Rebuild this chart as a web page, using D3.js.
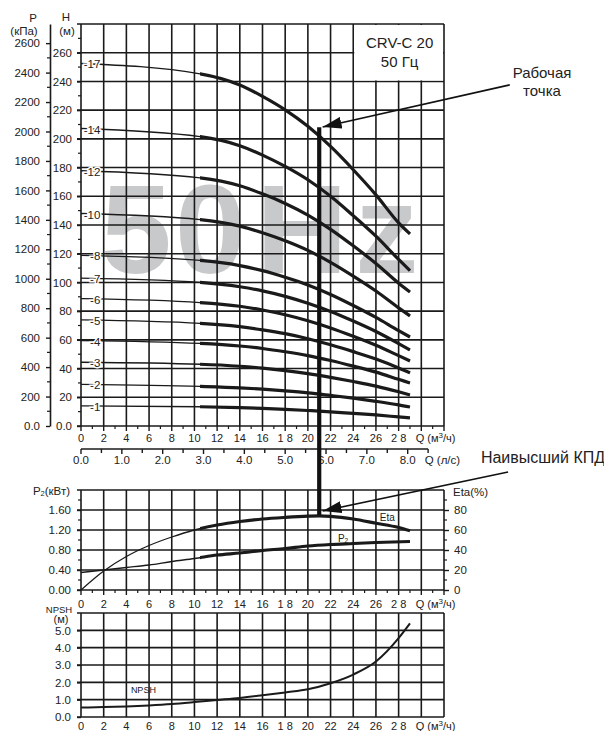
<!DOCTYPE html>
<html><head><meta charset="utf-8">
<script src="https://cdn.jsdelivr.net/npm/d3@7/dist/d3.min.js"></script>
<style>
body{margin:0;background:#fff}
svg{display:block}
text{font-family:"Liberation Sans",Arial,sans-serif;fill:#222}
</style>
</head><body>
<svg id="chart" width="604" height="731"></svg>
<script>
// ---------- DATA ----------
const qPoints = [0, 10.5, 14, 16, 18, 20, 22, 24, 26, 28, 29];      // m3/h
const head1  = [14.0, 13.4, 12.8, 12.3, 11.6, 10.8, 9.9, 8.8, 7.7, 6.3, 5.6];
const head2  = [29.0, 27.6, 26.6, 25.7, 24.5, 23.1, 21.3, 19.4, 17.2, 14.7, 13.2];
const head3  = [44.4, 43.0, 41.6, 40.3, 38.6, 36.5, 33.9, 31.0, 27.8, 23.8, 21.6];
const head4  = [59.5, 57.5, 55.7, 54.0, 51.7, 49.0, 45.6, 41.7, 37.5, 32.5, 30.0];
const head5  = [73.9, 71.5, 69.2, 67.0, 64.3, 60.8, 56.6, 51.8, 46.6, 40.4, 37.0];
const head6  = [88.7, 86.0, 83.4, 80.8, 77.5, 73.3, 68.3, 62.5, 56.3, 49.0, 45.3];
const head7  = [103.0, 100.0, 97.0, 94.1, 90.3, 85.5, 79.8, 73.1, 65.8, 57.4, 53.0];
const head8  = [118.8, 115.3, 111.7, 108.2, 103.6, 98.2, 91.6, 83.9, 75.6, 66.4, 62.0];
const head10 = [148.0, 143.8, 139.2, 134.6, 129.0, 122.3, 114.0, 104.4, 94.0, 82.3, 76.7];
const head12 = [177.8, 172.8, 167.3, 161.7, 155.0, 146.9, 137.0, 125.5, 113.2, 99.5, 93.4];
const head14 = [207.2, 201.5, 195.2, 188.7, 180.8, 171.5, 160.0, 146.5, 132.2, 116.0, 108.2];
const head17 = [252.5, 245.3, 237.5, 229.6, 220.2, 208.7, 194.7, 178.5, 161.0, 141.5, 133.8];
const stageLabels = ["-1","-2","-3","-4","-5","-6","-7","-8","-10","-12","-14","-17"];
const stageHeads  = [head1, head2, head3, head4, head5, head6, head7, head8, head10, head12, head14, head17];
const opStartQ = 10.5;

const p2Q    = [0, 2, 4, 6, 8, 10, 12, 14, 16, 18, 20, 22, 24, 26, 29];
const p2Vals = [0.35, 0.40, 0.45, 0.50, 0.57, 0.63, 0.70, 0.74, 0.79, 0.83, 0.88, 0.91, 0.93, 0.95, 0.97];
const etaQ    = [0, 2, 4, 6, 8, 10, 12, 14, 16, 18, 20, 21, 22, 24, 26, 28, 29];
const etaVals = [0, 19, 33.5, 44.5, 53, 60, 65, 68.5, 71, 72.6, 73.8, 74.1, 73.6, 71, 66.8, 62.5, 59.3];
const npshQ    = [0, 2, 4, 6, 8, 10, 12, 14, 16, 18, 20, 22, 24, 26, 28, 29];
const npshVals = [0.55, 0.57, 0.61, 0.67, 0.75, 0.86, 0.98, 1.1, 1.25, 1.42, 1.6, 1.95, 2.45, 3.2, 4.55, 5.4];

const workQ = 21, workH = 208, workEta = 75;

const qTicks = [0,2,4,6,8,10,12,14,16,18,20,22,24,26,28];
const qTickLabels = ["0","2","4","6","8","10","12","14","16","1 8","20","22","24","26","2 8"];
const hTicks = [0,20,40,60,80,100,120,140,160,180,200,220,240,260];
const hTickLabels = ["0.0","20","40","60","80","100","120","140","160","180","200","220","240","260"];
const pTicks = [0,200,400,600,800,1000,1200,1400,1600,1800,2000,2200,2400,2600];
const pTickLabels = ["0.0","200","400","600","800","1000","1200","1400","1600","1800","2000","2200","2400","2600"];
const lsTicks = [0,1,2,3,4,5,6,7,8];
const lsTickLabels = ["0.0","1.0","2.0","3.0","4.0","5.0","6.0","7.0","8.0"];
const p2Ticks = [0,0.4,0.8,1.2,1.6];
const p2TickLabels = ["0.00","0.40","0.80","1.20","1.60"];
const etaTicks = [0,20,40,60,80];
const npshTicks = [0,1,2,3,4,5];
const npshTickLabels = ["0.0","1.0","2.0","3.0","4.0","5.0"];

// ---------- SCALES ----------
const svg = d3.select("#chart");
const x    = d3.scaleLinear().domain([0,32]).range([81,444]);
const xLs  = d3.scaleLinear().domain([0,32/3.6]).range([81,444]);
const yH   = d3.scaleLinear().domain([0,280]).range([426,24]);
const yP   = d3.scaleLinear().domain([0,2730]).range([426,24]);
const yP2  = d3.scaleLinear().domain([0,2]).range([590,490]);
const yEta = d3.scaleLinear().domain([0,100]).range([590,490]);
const yN   = d3.scaleLinear().domain([0,6]).range([717,613]);

const gridQ = d3.range(0,33,2);
const ink = "#1a1a1a";

// ---------- WATERMARK ----------
const wm = svg.append("text").attr("y", 273).attr("font-size",127).attr("font-weight","bold")
  .style("fill","#c8c9ca");
[["5",101],["0",175],["H",256],["z",355]].forEach(([c,px]) => wm.append("tspan").attr("x",px).text(c));

// ---------- helper for grid ----------
function grid(g, yScale, yVals, yTop, yBottom, gridStroke){
  g.selectAll(".v").data(gridQ).join("line")
    .attr("x1", d=>x(d)).attr("x2", d=>x(d)).attr("y1", yTop).attr("y2", yBottom)
    .attr("stroke", ink).attr("stroke-width", gridStroke);
  g.selectAll(".h").data(yVals).join("line").attr("class","h")
    .attr("x1", x(0)-4).attr("x2", x(32)).attr("y1", d=>yScale(d)).attr("y2", d=>yScale(d))
    .attr("stroke", ink).attr("stroke-width", gridStroke);
}

function xAxisLabels(yPos, withUnit){
  const g = svg.append("g");
  g.selectAll("text").data(qTicks).join("text")
    .attr("x", d=>x(d)).attr("y", yPos).attr("text-anchor","middle").attr("font-size",11)
    .attr("dominant-baseline","central").text((d,i)=>qTickLabels[i]);
  if (withUnit) g.append("text").attr("x", x(29.5)).attr("y", yPos).attr("font-size",11)
    .attr("dominant-baseline","central").html("Q (м<tspan font-size='8' dy='-3'>3</tspan><tspan dy='3'>/ч)</tspan>");
}
function minorQTicks(yPos, len){
  svg.append("g").selectAll("line").data(d3.range(1,32,2)).join("line")
    .attr("x1", d=>x(d)).attr("x2", d=>x(d)).attr("y1", yPos).attr("y2", yPos+len)
    .attr("stroke", ink).attr("stroke-width",1.2);
  svg.append("g").selectAll("line").data(gridQ).join("line")
    .attr("x1", d=>x(d)).attr("x2", d=>x(d)).attr("y1", yPos).attr("y2", yPos+len+2)
    .attr("stroke", ink).attr("stroke-width",1.4);
}

// ---------- MAIN PANEL ----------
const main = svg.append("g");
grid(main, yH, d3.range(0,281,20), yH(280), yH(0), 1.6);
// legend box covering the grid
main.append("rect").attr("x", x(24)+1).attr("y", yH(280)+1)
  .attr("width", x(32)-x(24)-2).attr("height", yH(240)-yH(280)-2).attr("fill","#fff");
main.append("text").attr("x", (x(24)+x(32))/2+1).attr("y", 42).attr("text-anchor","middle")
  .attr("font-size",15).attr("dominant-baseline","central").text("CRV-C 20");
main.append("text").attr("x", (x(24)+x(32))/2+1).attr("y", 61).attr("text-anchor","middle")
  .attr("font-size",15).attr("dominant-baseline","central").text("50 Гц");

minorQTicks(yH(0), 3);
xAxisLabels(438, true);

// H axis
const hAx = svg.append("g").attr("transform",`translate(${x(0)},0)`)
  .call(d3.axisLeft(yH).tickValues(hTicks).tickFormat((d,i)=>hTickLabels[i]).tickSize(4).tickPadding(5));
hAx.select(".domain").remove();
hAx.selectAll("text").attr("font-size",11.5).style("font-family","Liberation Sans, Arial").attr("fill","#222");
hAx.selectAll("line").attr("stroke",ink).attr("stroke-width",1.4);
svg.append("g").selectAll("line").data(d3.range(10,280,20)).join("line")
  .attr("x1", x(0)-3).attr("x2", x(0)).attr("y1", d=>yH(d)).attr("y2", d=>yH(d)).attr("stroke",ink).attr("stroke-width",1.2);
svg.append("text").attr("x",66).attr("y",17).attr("text-anchor","middle").attr("font-size",11.5).attr("dominant-baseline","central").text("H");
svg.append("text").attr("x",67).attr("y",31).attr("text-anchor","middle").attr("font-size",11.5).attr("dominant-baseline","central").text("(м)");

// P axis
const pAx = svg.append("g").attr("transform","translate(50,0)")
  .call(d3.axisLeft(yP).tickValues(pTicks).tickFormat((d,i)=>pTickLabels[i]).tickSize(4).tickPadding(6).tickSizeOuter(0));
pAx.select(".domain").attr("stroke",ink).attr("stroke-width",1.6);
pAx.selectAll("text").attr("font-size",11.5).style("font-family","Liberation Sans, Arial").attr("fill","#222");
pAx.selectAll(".tick line").attr("stroke",ink).attr("stroke-width",1.4);
svg.append("g").selectAll("line").data(d3.range(100,2700,200)).join("line")
  .attr("x1", 47).attr("x2", 50).attr("y1", d=>yP(d)).attr("y2", d=>yP(d)).attr("stroke",ink).attr("stroke-width",1.2);
svg.append("text").attr("x",33).attr("y",18).attr("text-anchor","middle").attr("font-size",11.5).attr("dominant-baseline","central").text("P");
svg.append("text").attr("x",24).attr("y",31).attr("text-anchor","middle").attr("font-size",11.5).attr("dominant-baseline","central").text("(кПа)");

// l/s axis
const lsY = 449;
svg.append("line").attr("x1", xLs(0)).attr("x2", xLs(8.5)).attr("y1", lsY).attr("y2", lsY).attr("stroke",ink).attr("stroke-width",1.4);
svg.append("g").selectAll("line").data(d3.range(0,8.6,0.5)).join("line")
  .attr("x1", d=>xLs(d)).attr("x2", d=>xLs(d)).attr("y1", lsY).attr("y2", d=> lsY + (d%1===0?5:4))
  .attr("stroke",ink).attr("stroke-width",1.4);
svg.append("g").selectAll("text").data(lsTicks).join("text")
  .attr("x", d=>xLs(d)).attr("y", 460).attr("text-anchor","middle").attr("font-size",11.5)
  .attr("dominant-baseline","central").text((d,i)=>lsTickLabels[i]);
svg.append("text").attr("x", xLs(8)+17).attr("y",460).attr("font-size",11.5).attr("dominant-baseline","central").text("Q (л/с)");

// pump curves
const clip = svg.append("defs");
clip.append("clipPath").attr("id","opMain").append("rect")
  .attr("x", x(opStartQ)).attr("y", 0).attr("width", 300).attr("height", 731);
const lineH = d3.line().x(d=>x(d[0])).y(d=>yH(d[1])).curve(d3.curveMonotoneX);
const curves = svg.append("g");
stageHeads.forEach((hs, i) => {
  const pts = qPoints.map((q,j)=>[q, hs[j]]);
  curves.append("path").attr("d", lineH(pts)).attr("fill","none").attr("stroke",ink).attr("stroke-width",1.3);
  curves.append("path").attr("d", lineH(pts)).attr("fill","none").attr("stroke",ink).attr("stroke-width",3.2)
    .attr("clip-path","url(#opMain)");
});
curves.selectAll("text").data(stageHeads).join("text")
  .attr("x", x(1.7)).attr("y", d=>yH(d[0])+1).attr("text-anchor","end").attr("font-size",11.5)
  .attr("dominant-baseline","central")
  .attr("stroke","#fff").attr("stroke-width",3).attr("paint-order","stroke")
  .text((d,i)=>stageLabels[i]);

// ---------- PANEL 2 (P2 / Eta) ----------
const p2g = svg.append("g");
grid(p2g, yP2, [0,0.4,0.8,1.2,1.6,2.0], yP2(2), yP2(0), 1.6);
minorQTicks(yP2(0), 3);
xAxisLabels(604, true);
const p2Ax = svg.append("g").attr("transform",`translate(${x(0)},0)`)
  .call(d3.axisLeft(yP2).tickValues(p2Ticks).tickFormat((d,i)=>p2TickLabels[i]).tickSize(4).tickPadding(6));
p2Ax.select(".domain").remove();
p2Ax.selectAll("text").attr("font-size",11.5).style("font-family","Liberation Sans, Arial").attr("fill","#222");
p2Ax.selectAll("line").attr("stroke",ink).attr("stroke-width",1.4);
svg.append("g").selectAll("line").data([0.2,0.6,1.0,1.4,1.8]).join("line")
  .attr("x1", x(0)-3).attr("x2", x(0)).attr("y1", d=>yP2(d)).attr("y2", d=>yP2(d)).attr("stroke",ink).attr("stroke-width",1.2);
const p2Lab = svg.append("text").attr("x",70).attr("y",491).attr("text-anchor","end").attr("font-size",11.5).attr("dominant-baseline","central");
p2Lab.append("tspan").text("P");
p2Lab.append("tspan").attr("font-size",7.5).attr("dy",2).text("2");
p2Lab.append("tspan").attr("dy",-2).text("(кВт)");

const etaAx = svg.append("g").attr("transform",`translate(${x(32)},0)`)
  .call(d3.axisRight(yEta).tickValues(etaTicks).tickSize(5).tickPadding(5));
etaAx.select(".domain").remove();
etaAx.selectAll("text").attr("font-size",11.5).style("font-family","Liberation Sans, Arial").attr("fill","#222");
etaAx.selectAll("line").attr("stroke",ink).attr("stroke-width",1.4);
svg.append("g").selectAll("line").data([10,30,50,70,90]).join("line")
  .attr("x1", x(32)).attr("x2", x(32)+3).attr("y1", d=>yEta(d)).attr("y2", d=>yEta(d)).attr("stroke",ink).attr("stroke-width",1.2);
svg.append("text").attr("x", x(32)+9).attr("y",492).attr("font-size",11.5).attr("dominant-baseline","central").text("Eta(%)");

const lineP2 = d3.line().x(d=>x(d[0])).y(d=>yP2(d[1])).curve(d3.curveMonotoneX);
const lineEta = d3.line().x(d=>x(d[0])).y(d=>yEta(d[1])).curve(d3.curveMonotoneX);
const p2Pts = p2Q.map((q,i)=>[q,p2Vals[i]]);
const etaPts = etaQ.map((q,i)=>[q,etaVals[i]]);
[[lineP2,p2Pts],[lineEta,etaPts]].forEach(([ln,pts])=>{
  svg.append("path").attr("d", ln(pts)).attr("fill","none").attr("stroke",ink).attr("stroke-width",1.3);
  svg.append("path").attr("d", ln(pts)).attr("fill","none").attr("stroke",ink).attr("stroke-width",3.2).attr("clip-path","url(#opMain)");
});
svg.append("text").attr("x", x(27.0)).attr("y", yEta(72.5)).attr("text-anchor","middle").attr("font-size",10)
  .attr("dominant-baseline","central").text("Eta");
const p2Txt = svg.append("text").attr("x", x(23.1)).attr("y", yP2(1.04)).attr("text-anchor","middle").attr("font-size",10)
  .attr("dominant-baseline","central");
p2Txt.append("tspan").text("P");
p2Txt.append("tspan").attr("font-size",6.5).attr("dy",2).text("2");

// ---------- PANEL 3 (NPSH) ----------
const ng = svg.append("g");
grid(ng, yN, [0,1,2,3,4,5,6], yN(6), yN(0), 1.6);
xAxisLabels(726, true);
const nAx = svg.append("g").attr("transform",`translate(${x(0)},0)`)
  .call(d3.axisLeft(yN).tickValues(npshTicks).tickFormat((d,i)=>npshTickLabels[i]).tickSize(4).tickPadding(6));
nAx.select(".domain").remove();
nAx.selectAll("text").attr("font-size",11.5).style("font-family","Liberation Sans, Arial").attr("fill","#222");
nAx.selectAll("line").attr("stroke",ink).attr("stroke-width",1.4);
svg.append("text").attr("x",59).attr("y",609).attr("text-anchor","middle").attr("font-size",9.5).attr("dominant-baseline","central").text("NPSH");
svg.append("text").attr("x",61).attr("y",619).attr("text-anchor","middle").attr("font-size",11).attr("dominant-baseline","central").text("(м)");
const lineN = d3.line().x(d=>x(d[0])).y(d=>yN(d[1])).curve(d3.curveMonotoneX);
svg.append("path").attr("d", lineN(npshQ.map((q,i)=>[q,npshVals[i]]))).attr("fill","none").attr("stroke",ink).attr("stroke-width",2);
svg.append("text").attr("x", x(5.5)).attr("y", yN(1.55)).attr("text-anchor","middle").attr("font-size",9)
  .attr("dominant-baseline","central").text("NPSH");

// ---------- WORKING POINT LINE ----------
svg.append("line").attr("x1", x(workQ)).attr("x2", x(workQ)).attr("y1", yH(workH)).attr("y2", yEta(workEta))
  .attr("stroke","#111").attr("stroke-width",4.2);

// ---------- ARROWS ----------
const defs = svg.append("defs");
defs.append("marker").attr("id","ah").attr("viewBox","0 0 10 10").attr("refX",10).attr("refY",5)
  .attr("markerUnits","userSpaceOnUse").attr("markerWidth",19).attr("markerHeight",12)
  .attr("preserveAspectRatio","none").attr("orient","auto")
  .append("path").attr("d","M0,0 L10,5 L0,10 Z").attr("fill","#111");
svg.append("line").attr("x1", x(37.8)).attr("y1", yH(237.6)).attr("x2", x(21.3)).attr("y2", yH(208.3))
  .attr("stroke","#111").attr("stroke-width",1.6).attr("marker-end","url(#ah)");
svg.append("line").attr("x1", x(37.65)).attr("y1", yEta(118)).attr("x2", x(21.3)).attr("y2", yEta(79))
  .attr("stroke","#111").attr("stroke-width",1.6).attr("marker-end","url(#ah)");

svg.append("text").attr("x",542).attr("y",72).attr("text-anchor","middle").attr("font-size",15).attr("dominant-baseline","central").text("Рабочая");
svg.append("text").attr("x",542).attr("y",90).attr("text-anchor","middle").attr("font-size",15).attr("dominant-baseline","central").text("точка");
svg.append("text").attr("x",543).attr("y",457).attr("text-anchor","middle").attr("font-size",16).attr("dominant-baseline","central").text("Наивысший КПД");
</script>
</body></html>
